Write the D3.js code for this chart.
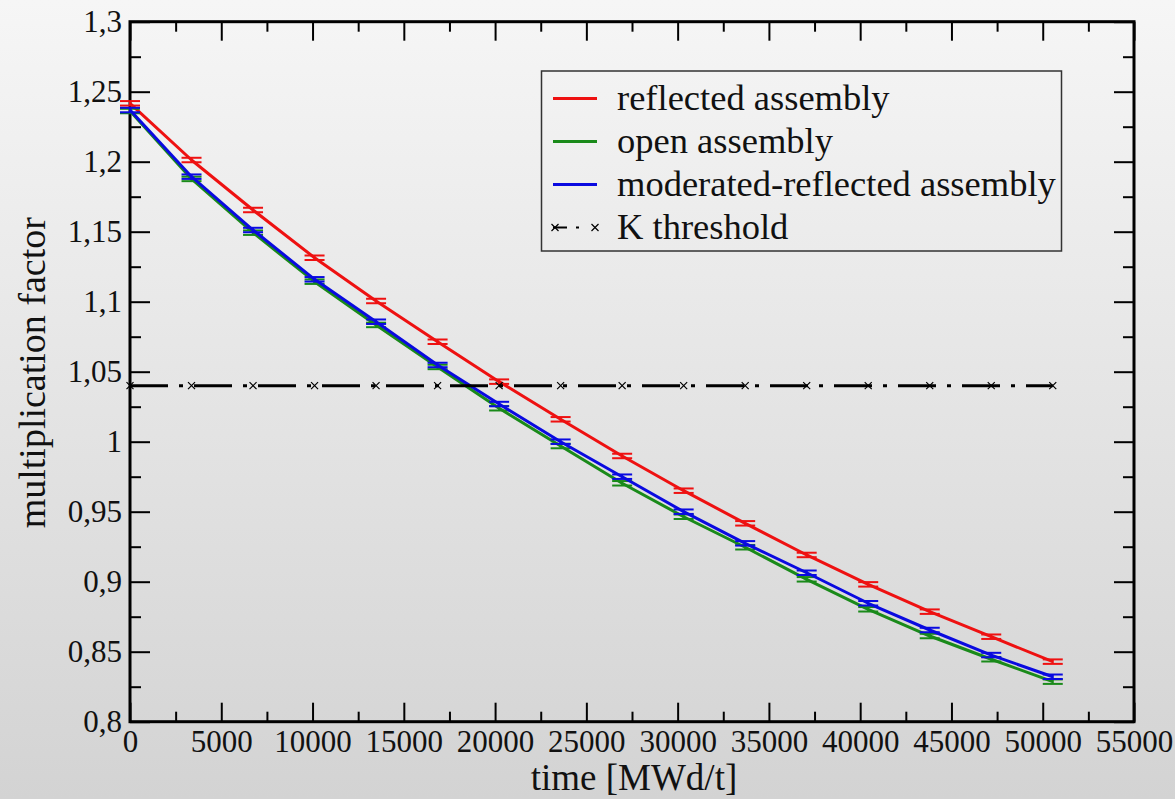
<!DOCTYPE html>
<html>
<head>
<meta charset="utf-8">
<script src="https://cdn.jsdelivr.net/npm/d3@7/dist/d3.min.js"></script>
<style>
  html, body { margin: 0; padding: 0; background: #e6e6e6; }
  svg { display: block; }
  text { font-family: "Liberation Serif", "Times New Roman", serif; fill: #111; }
</style>
</head>
<body>
<svg id="chart" width="1175" height="799"></svg>
<script>
// ---------------- data ----------------
const burnup = [0, 3370, 6740, 10110, 13480, 16850, 20220, 23590, 26960, 30330, 33700, 37070, 40440, 43810, 47180, 50550];
const reflected = [1.2417, 1.2012, 1.1655, 1.1314, 1.1005, 1.0714, 1.0429, 1.0160, 0.9898, 0.9650, 0.9417, 0.9191, 0.8981, 0.8786, 0.8607, 0.8429];
const openAsm   = [1.2362, 1.1877, 1.1493, 1.1143, 1.0834, 1.0534, 1.0239, 0.9969, 0.9703, 0.9464, 0.9246, 0.9017, 0.8803, 0.8612, 0.8446, 0.8286];
const moderated = [1.2369, 1.1893, 1.1512, 1.1160, 1.0857, 1.0548, 1.0269, 1.0000, 0.9750, 0.9500, 0.9274, 0.9064, 0.8846, 0.8655, 0.8476, 0.8321];
const kThreshold = [1.04, 1.04, 1.04, 1.04, 1.04, 1.04, 1.04, 1.04, 1.04, 1.04, 1.04, 1.04, 1.04, 1.04, 1.04, 1.04];
const errReflected = 0.0016, errOpen = 0.0016, errModerated = 0.0016;

const seriesNames = ["reflected assembly", "open assembly", "moderated-reflected assembly", "K threshold"];
const xTicks = [0, 5000, 10000, 15000, 20000, 25000, 30000, 35000, 40000, 45000, 50000, 55000];
const xTickLabels = ["0", "5000", "10000", "15000", "20000", "25000", "30000", "35000", "40000", "45000", "50000", "55000"];
const yTicks = [0.8, 0.85, 0.9, 0.95, 1.0, 1.05, 1.1, 1.15, 1.2, 1.25, 1.3];
const yTickLabels = ["0,8", "0,85", "0,9", "0,95", "1", "1,05", "1,1", "1,15", "1,2", "1,25", "1,3"];
const xMinor = d3.range(2500, 55000, 5000);
const yMinor = d3.range(0.825, 1.3, 0.05);
const xLabel = "time [MWd/t]";
const yLabel = "multiplication factor";

// ---------------- layout ----------------
const W = 1175, H = 799;
const L = 130, T = 21.7, R = 1134, B = 721.7;
const svg = d3.select("#chart");

const defs = svg.append("defs");
const grad = defs.append("linearGradient").attr("id", "bg").attr("x1", 0).attr("y1", 0).attr("x2", 0).attr("y2", 1);
grad.append("stop").attr("offset", "0%").attr("stop-color", "#f6f6f6");
grad.append("stop").attr("offset", "100%").attr("stop-color", "#d3d3d3");
svg.append("rect").attr("width", W).attr("height", H).attr("fill", "url(#bg)");

const x = d3.scaleLinear().domain([0, 55000]).range([L, R]);
const y = d3.scaleLinear().domain([0.8, 1.3]).range([B, T]);

const fontTick = 31;
const serif = '"Liberation Serif", "Times New Roman", serif';

function styleAxis(g) {
  g.select(".domain").remove();
  g.selectAll(".tick line").attr("stroke", "#000").attr("stroke-width", 2);
  g.selectAll(".tick text").attr("font-size", fontTick).attr("fill", "#111")
    .attr("font-family", serif).style("font-family", serif);
}
svg.append("g").attr("transform", `translate(0,${B})`)
  .call(d3.axisBottom(x).tickValues(xTicks).tickSize(-19).tickSizeOuter(0).tickPadding(8)
    .tickFormat((d, i) => xTickLabels[i]))
  .call(styleAxis);
svg.append("g").attr("transform", `translate(0,${B})`)
  .call(d3.axisBottom(x).tickValues(xMinor).tickSize(-10).tickSizeOuter(0).tickFormat(""))
  .call(styleAxis);
svg.append("g").attr("transform", `translate(0,${T})`)
  .call(d3.axisTop(x).tickValues(xTicks).tickSize(-19).tickSizeOuter(0).tickFormat(""))
  .call(styleAxis);
svg.append("g").attr("transform", `translate(0,${T})`)
  .call(d3.axisTop(x).tickValues(xMinor).tickSize(-10).tickSizeOuter(0).tickFormat(""))
  .call(styleAxis);

svg.append("g").attr("transform", `translate(${L},0)`)
  .call(d3.axisLeft(y).tickValues(yTicks).tickSize(-20).tickSizeOuter(0).tickPadding(8)
    .tickFormat((d, i) => yTickLabels[i]))
  .call(styleAxis);
svg.append("g").attr("transform", `translate(${L},0)`)
  .call(d3.axisLeft(y).tickValues(yMinor).tickSize(-11).tickSizeOuter(0).tickFormat(""))
  .call(styleAxis);
svg.append("g").attr("transform", `translate(${R},0)`)
  .call(d3.axisRight(y).tickValues(yTicks).tickSize(-20).tickSizeOuter(0).tickFormat(""))
  .call(styleAxis);
svg.append("g").attr("transform", `translate(${R},0)`)
  .call(d3.axisRight(y).tickValues(yMinor).tickSize(-11).tickSizeOuter(0).tickFormat(""))
  .call(styleAxis);

svg.append("rect").attr("x", L).attr("y", T).attr("width", R - L).attr("height", B - T)
  .attr("fill", "none").attr("stroke", "#000").attr("stroke-width", 3);

// ---------------- series ----------------
const series = [
  { name: seriesNames[0], vals: reflected, err: errReflected, color: "#ee1111" },
  { name: seriesNames[1], vals: openAsm,   err: errOpen,      color: "#1a8a1a" },
  { name: seriesNames[2], vals: moderated, err: errModerated, color: "#0a0ae0" }
];
const line = d3.line().x(d => x(d[0])).y(d => y(d[1]));

series.forEach(s => {
  const pts = burnup.map((b, i) => [b, s.vals[i]]);
  const g = svg.append("g");
  g.append("path").datum(pts).attr("d", line)
    .attr("fill", "none").attr("stroke", s.color).attr("stroke-width", 3).attr("stroke-linejoin", "round");
  const eb = g.selectAll(".eb").data(pts).enter().append("g");
  eb.append("line").attr("x1", d => x(d[0])).attr("x2", d => x(d[0]))
    .attr("y1", d => y(d[1] - s.err)).attr("y2", d => y(d[1] + s.err))
    .attr("stroke", s.color).attr("stroke-width", 2);
  [-1, 1].forEach(sg => {
    eb.append("line").attr("x1", d => x(d[0]) - 10).attr("x2", d => x(d[0]) + 10)
      .attr("y1", d => y(d[1] + sg * s.err)).attr("y2", d => y(d[1] + sg * s.err))
      .attr("stroke", s.color).attr("stroke-width", 2);
  });
});

// threshold
const thrPts = burnup.map((b, i) => [b, kThreshold[i]]);
svg.append("path").datum(thrPts).attr("d", line)
  .attr("fill", "none").attr("stroke", "#000").attr("stroke-width", 3)
  .attr("stroke-dasharray", "38,11,4,11");
function xMark(g, cx, cy) {
  g.append("path").attr("d", `M${cx - 3.5},${cy - 3.5}L${cx + 3.5},${cy + 3.5}M${cx - 3.5},${cy + 3.5}L${cx + 3.5},${cy - 3.5}`)
    .attr("stroke", "#000").attr("stroke-width", 1.2).attr("fill", "none");
}
const mk = svg.append("g");
thrPts.forEach(d => xMark(mk, x(d[0]), y(d[1])));

// ---------------- legend ----------------
const lg = svg.append("g");
lg.append("rect").attr("x", 541.5).attr("y", 71).attr("width", 520).attr("height", 180)
  .attr("fill", "none").attr("stroke", "#333").attr("stroke-width", 1.5);
const rowY = [98.5, 141.5, 184.5, 227.5];
const lx1 = 553, lx2 = 597, tx = 617;
const fontLegend = 36.5;
series.forEach((s, i) => {
  lg.append("line").attr("x1", lx1).attr("x2", lx2).attr("y1", rowY[i]).attr("y2", rowY[i])
    .attr("stroke", s.color).attr("stroke-width", 3);
  lg.append("text").attr("x", tx).attr("y", rowY[i] + 11).attr("font-size", fontLegend)
    .attr("font-family", serif).text(s.name);
});
lg.append("line").attr("x1", lx1).attr("x2", lx2).attr("y1", rowY[3]).attr("y2", rowY[3])
  .attr("stroke", "#000").attr("stroke-width", 2).attr("stroke-dasharray", "14,9,3,40");
xMark(lg, lx1 + 2, rowY[3]);
xMark(lg, lx2 - 2, rowY[3]);
lg.append("text").attr("x", tx).attr("y", rowY[3] + 11).attr("font-size", fontLegend)
  .attr("font-family", serif).text(seriesNames[3]);

// ---------------- axis titles ----------------
svg.append("text").attr("x", 634).attr("y", 790).attr("text-anchor", "middle")
  .attr("font-size", 37).attr("font-family", serif).text(xLabel);
svg.append("text").attr("transform", `translate(45,${(T + B) / 2 + 1})rotate(-90)`).attr("text-anchor", "middle")
  .attr("font-size", 38).attr("font-family", serif).text(yLabel);
</script>
</body>
</html>
